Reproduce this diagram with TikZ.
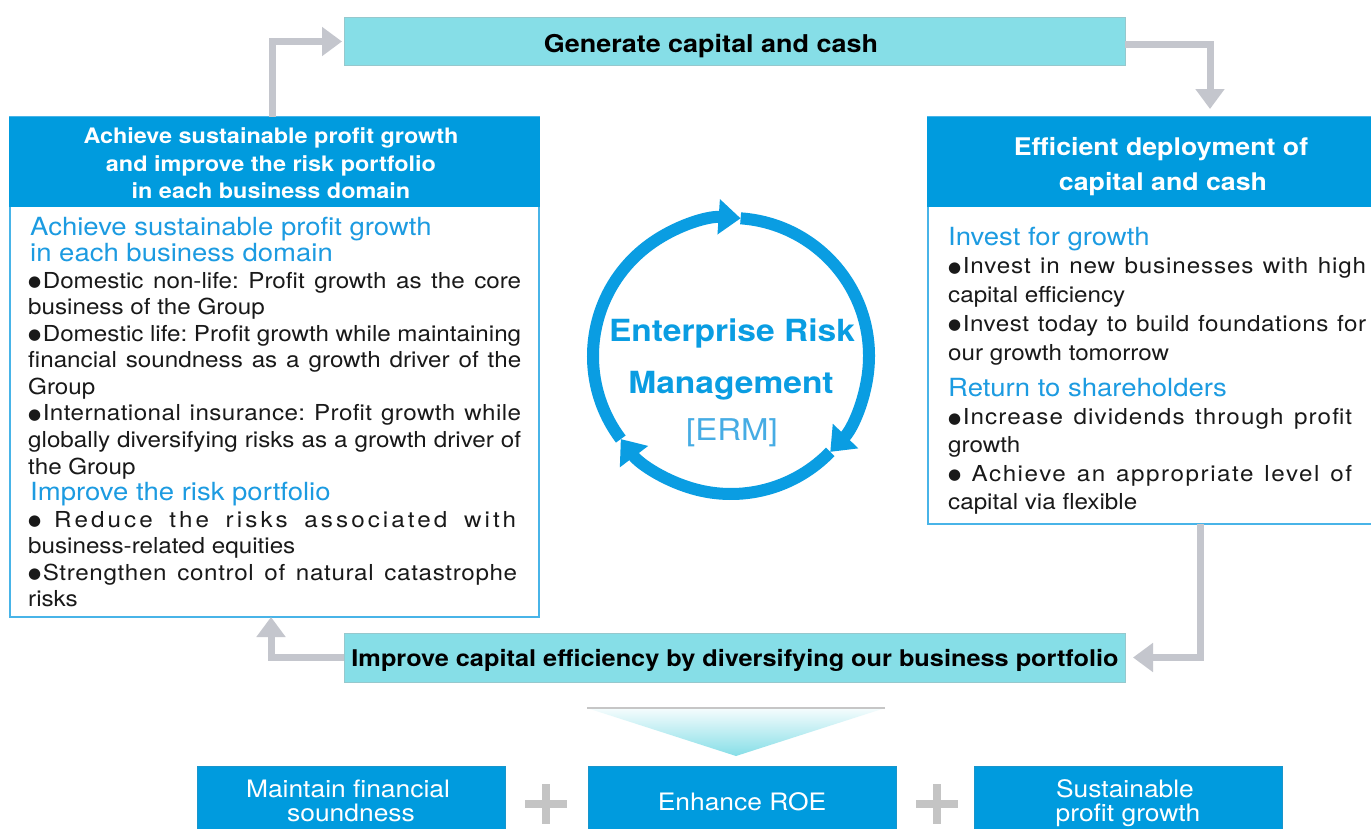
\documentclass[tikz,border=0pt]{standalone}
\usepackage{fontspec}
\setmainfont{TeX Gyre Heros}[FakeStretch=1.1]
\newfontfamily\dotfont{DejaVu Sans}
\usetikzlibrary{arrows.meta}

\definecolor{hdblue}{RGB}{0,155,222}
\definecolor{edgeblue}{RGB}{72,180,232}
\definecolor{subblue}{RGB}{28,155,225}
\definecolor{ermblue}{RGB}{70,172,228}
\definecolor{ringblue}{RGB}{10,157,226}
\definecolor{aqua}{RGB}{134,222,231}
\definecolor{aquaedge}{RGB}{150,200,205}
\definecolor{conngray}{RGB}{196,198,205}
\definecolor{plusgray}{RGB}{196,196,196}
\definecolor{ink}{RGB}{25,25,25}

% font size helper, bullet dot, justified line, tracked text
\newcommand\fsz[2]{\fontsize{#1}{#2}\selectfont\frenchspacing}
\newcommand\bul{\raisebox{1.5pt}{\dotfont\fontsize{15}{15}\selectfont ●}\hspace{1.5pt}}
\newcommand\just[2]{\makebox[#1pt][s]{#2}}
\newcommand\spaced[2]{{\addfontfeature{LetterSpace=#1}#2}}

\begin{document}
\begin{tikzpicture}[x=1pt,y=-1pt,
  box/.style={inner sep=0, outer sep=0},
  aquabox/.style={box, fill=aqua, draw=aquaedge, line width=0.8pt},
  panel/.style={box, fill=white, draw=edgeblue, line width=2.5pt},
  headbar/.style={box, fill=hdblue},
  goalbox/.style={box, fill=hdblue, draw=hdblue!80!gray, line width=0.8pt, minimum width=308, minimum height=70},
  conn/.style={draw=conngray, line width=7pt, line join=miter, -{Triangle[length=20pt,width=28pt]}},
  ringseg/.style={draw=ringblue, line width=12pt, -{Triangle[length=22pt,width=34pt]}},
  plusbar/.style={draw=plusgray, line width=8pt},
  tx/.style={inner sep=0, anchor=base west, text=ink, font=\fsz{22}{26}},
  txb/.style={inner sep=0, anchor=base west, text=subblue, font=\fsz{25}{28}},
  hdtx/.style={inner sep=0, anchor=base, text=white, font=\fsz{21.3}{25}\bfseries},
  hdtx2/.style={hdtx, font=\fsz{24.3}{28}\bfseries},
  bandtx/.style={inner sep=0, anchor=base, text=black, font=\fsz{24.5}{28}\bfseries},
  goaltx/.style={inner sep=0, anchor=base, text=white, font=\fsz{24}{28}},
  ermtx/.style={inner sep=0, anchor=base, text=ringblue, font=\fsz{30.5}{34}\bfseries},
]
\useasboundingbox (0,0) rectangle (1371,828);
\clip (0,0) rectangle (1371,828);
\fill[white] (0,0) rectangle (1371,828);

% cycle bands
\node[aquabox, minimum width=781, minimum height=48] (gen) at (734.5,41.5) {};
\node[bandtx] (gentx) at (711,52) {Generate capital and cash};
\node[aquabox, minimum width=781, minimum height=49] (imp) at (734.5,657.5) {};
\node[bandtx, font=\fsz{23}{28}\bfseries] (imptx) at (735,666.5) {Improve capital efficiency by diversifying our business portfolio};

% left panel
\node[panel, minimum width=529, minimum height=500] (lbox) at (274.5,367) {};
\node[headbar, minimum width=531.5, minimum height=90] (lhead) at (274.5,162) {};
\node[hdtx] (lh1) at (271,143.5) {Achieve sustainable profit growth};
\node[hdtx] (lh2) at (271,171) {and improve the risk portfolio};
\node[hdtx] (lh3) at (271,198.5) {in each business domain};

\node[txb] (la0) at (30,235) {Achieve sustainable profit growth};
\node[txb] (la1) at (30,261.6) {in each business domain};
\node[tx] (la2) at (28,288.1) {\just{493}{\bul Domestic non-life: Profit growth as the core}};
\node[tx] (la3) at (28,314.7) {business of the Group};
\node[tx] (la4) at (28,341.2) {\just{493}{\bul Domestic life: Profit growth while maintaining}};
\node[tx] (la5) at (28,367.8) {\just{493}{financial soundness as a growth driver of the}};
\node[tx] (la6) at (28,394.3) {Group};
\node[tx] (la7) at (28,420.9) {\just{493}{\bul \spaced{2}{International insurance: Profit growth while}}};
\node[tx] (la8) at (28,447.4) {\just{493}{globally diversifying risks as a growth driver of}};
\node[tx] (la9) at (28,474) {the Group};
\node[txb] (la10) at (30,500.5) {Improve the risk portfolio};
\node[tx] (la11) at (28,527) {\just{488}{\bul\ \spaced{14}{Reduce the risks associated with}}};
\node[tx] (la12) at (28,553.6) {business-related equities};
\node[tx] (la13) at (28,580.2) {\just{489}{\bul \spaced{3}{Strengthen control of natural catastrophe}}};
\node[tx] (la14) at (28,606.7) {risks};

% right panel
\node[panel, minimum width=467, minimum height=407] (rbox) at (1161.5,320.5) {};
\node[headbar, minimum width=469.5, minimum height=90] (rhead) at (1161.5,162) {};
\node[hdtx2] (rh1) at (1161,155) {Efficient deployment of};
\node[hdtx2] (rh2) at (1163,190) {capital and cash};

\node[txb] (ra0) at (948,245) {Invest for growth};
\node[tx] (ra1) at (948,273.8) {\just{418}{\bul \spaced{4}{Invest in new businesses with high}}};
\node[tx] (ra2) at (948,302.6) {capital efficiency};
\node[tx] (ra3) at (948,331.4) {\just{418}{\bul \spaced{2.5}{Invest today to build foundations for}}};
\node[tx] (ra4) at (948,360.2) {our growth tomorrow};
\node[txb] (ra5) at (948,396.7) {Return to shareholders};
\node[tx] (ra6) at (948,424.8) {\just{404}{\bul \spaced{5}{Increase dividends through profit}}};
\node[tx] (ra7) at (948,452.9) {growth};
\node[tx] (ra8) at (948,481) {\just{404}{\bul\ \spaced{7}{Achieve an appropriate level of}}};
\node[tx] (ra9) at (948,509) {capital via flexible};

% connectors of the cycle
\draw[conn, shorten >=2pt] ([xshift=-2.5]lbox.north) |- (gen.west);
\draw[conn, shorten >=8pt] ([yshift=-2.5]gen.east) -| ([xshift=48.5]rbox.north);
\draw[conn, shorten >=8pt] ([xshift=38.5]rbox.south) |- (imp.east);
\draw[conn] (imp.west) -| ([xshift=-3.5]lbox.south);

% ERM ring
\coordinate (erm) at (731,356);
\draw[ringseg] (erm) ++(-86:138) arc[start angle=-86, end angle=44, radius=138];
\draw[ringseg] (erm) ++(44:138) arc[start angle=44, end angle=143, radius=138];
\draw[ringseg] (erm) ++(143:138) arc[start angle=143, end angle=274, radius=138];
\node[ermtx] (erm1) at (732,341.5) {Enterprise Risk};
\node[ermtx] (erm2) at (731,393) {Management};
\node[ermtx, text=ermblue, font=\fsz{30}{34}] (erm3) at (732,440) {[ERM]};

% funnel
\shade[top color=aqua!8, bottom color=aqua] (587,708) -- (885,708) -- (736,756) -- cycle;
\draw[gray!45, line width=1.5pt] (587,708) -- (885,708);

% goals
\node[goalbox] (g1) at (351.5,801) {};
\node[goalbox] (g2) at (742,801) {};
\node[goalbox] (g3) at (1128,801) {};
\node[goaltx] (g1a) at (348,797) {Maintain financial};
\node[goaltx] (g1b) at (351,821) {soundness};
\node[goaltx] (g2a) at (742,810) {Enhance ROE};
\node[goaltx] (g3a) at (1125,797) {Sustainable};
\node[goaltx] (g3b) at (1128,821) {profit growth};

\coordinate (plusA) at (546,804);
\coordinate (plusB) at (937,804);
\foreach \p in {plusA,plusB}
  \draw[plusbar] ([xshift=-21]\p) -- ([xshift=21]\p) ([yshift=20]\p) -- ([yshift=-20]\p);
\end{tikzpicture}
\end{document}
